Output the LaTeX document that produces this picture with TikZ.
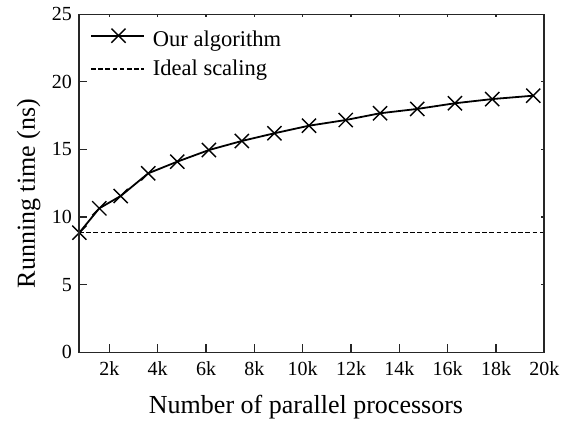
\documentclass[tikz,border=0pt]{standalone}
\usepackage{fontspec}
\setmainfont{Liberation Serif}
\usetikzlibrary{plotmarks}
\tikzset{
  axisline/.style={line width=1.4pt, draw=black!85},
  tickline/.style={line width=1.2pt, draw=black!85},
  curve/.style={line width=1.8pt, black},
  ideal/.style={line width=1.6pt, black, dash pattern=on 4.5pt off 2.7pt},
  ticklab/.style={font=\fontsize{20}{22}\selectfont, inner sep=0pt},
  leglab/.style={font=\fontsize{22.5}{25}\selectfont, inner sep=0pt, anchor=base west},
  axislab/.style={font=\fontsize{26}{28}\selectfont, inner sep=0pt, anchor=base},
}
\begin{document}
\begin{tikzpicture}[x=1pt,y=1pt]
\useasboundingbox (0,0) rectangle (572,425);
\fill[white] (0,0) rectangle (572,425);
\begin{scope}[shift={(61pt,72.7pt)}, x=24.17pt, y=13.52pt]
  % ideal scaling
  \draw[ideal] (0.745,8.85) -- (19.98,8.85);
  % data
  \draw[curve] plot[mark=x, mark size=10pt, mark options={line width=1.4pt}] coordinates {
    (0.76,8.85) (1.585,10.65) (2.47,11.56) (3.61,13.24) (4.81,14.10)
    (6.12,14.96) (7.48,15.63) (8.83,16.20) (10.26,16.76) (11.78,17.18)
    (13.20,17.68) (14.74,18.00) (16.30,18.42) (17.84,18.73) (19.54,18.98)};
  % ticks x
  \foreach \k in {2,4,...,20} {
    \draw[tickline] (\k,0) -- ++(0,8pt);
    \draw[tickline] (\k,25) -- ++(0,-2.5pt);
    \node[ticklab, anchor=base] (xt\k) at ([yshift=-23.4pt]\k,0) {\k k};
  }
  % ticks y
  \foreach \v in {0,5,...,25} {
    \draw[tickline] (0.745,\v) -- ++(8pt,0);
    \draw[tickline] (19.98,\v) -- ++(-2.5pt,0);
    \node[ticklab, anchor=east] (yt\v) at ([xshift=-7pt]0.745,\v) {\v};
  }
  % frame
  \draw[axisline] (0.745,0) rectangle (19.98,25);
\end{scope}
% legend
\draw[curve] (91,389.3) -- (144,389.3);
\draw[curve] plot[mark=x, mark size=10pt, mark options={line width=1.4pt}] coordinates {(118.5,389.3)};
\node[leglab] (l1) at (152.7,378.3) {Our algorithm};
\draw[ideal] (91,356) -- (144,356);
\node[leglab] (l2) at (152.7,349) {Ideal scaling};
% axis labels
\node[axislab] (xl) at (306,12) {Number of parallel processors};
\node[axislab, rotate=90] (yl) at (35,231.5) {Running time (ns)};
\end{tikzpicture}
\end{document}
